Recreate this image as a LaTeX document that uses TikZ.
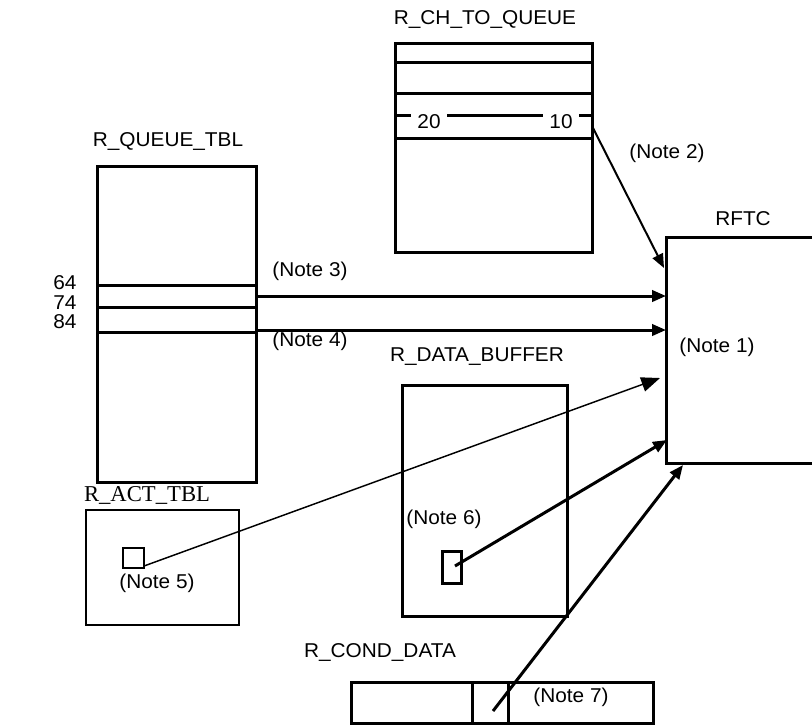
\documentclass[tikz,border=0pt]{standalone}
\usepackage{fontspec}
\setmainfont{Liberation Sans}[FakeStretch=1.04]
\newfontfamily\actfont{Liberation Serif}
\usetikzlibrary{arrows.meta}

\begin{document}
\begin{tikzpicture}[
    x=0.75pt, y=-0.75pt,
    >={Triangle[length=10.5pt,width=8.5pt]},
    every node/.style={font=\fontsize{15}{18}\selectfont, inner sep=0pt},
    wall/.style={draw=black, line width=2.25pt},
    thinwall/.style={draw=black, line width=1.1pt},
    link/.style={->, line width=2.25pt},
    thinlink/.style={->, line width=1.1pt},
    num/.style={fill=white, inner xsep=5pt, inner ysep=2pt}
]
\useasboundingbox (0,0) rectangle (812,726);

% tables
\draw[wall] (395,43) rectangle (592,252);
\foreach \y in {62,93,115,138} \draw[wall] (395,\y) -- (592,\y);
\draw[wall] (97,166) rectangle (256,482);
\foreach \y in {285,307,332} \draw[wall] (97,\y) -- (256,\y);
\draw[wall] (815,237) -- (666,237) -- (666,463) -- (815,463);
\draw[wall] (402,385) rectangle (567,616);
\draw[wall] (442,551) rectangle (461,583);
\draw[thinwall] (86,510) rectangle (239,625);
\draw[thinwall] (123,548) rectangle (144,568);
\draw[wall] (351,682) rectangle (653,723);
\draw[wall] (472,682) -- (472,723);
\draw[wall] (508,682) -- (508,723);

% titles
\node (chqtitle) at (485,19) {R\_CH\_TO\_QUEUE};
\node (qtbltitle) at (168,141) {R\_QUEUE\_TBL};
\node (rftctitle) at (743,219) {RFTC};
\node (dbuftitle) at (477,357) {R\_DATA\_BUFFER};
\node[font=\actfont\fontsize{17}{20}\selectfont] (acttitle) at (147,495) {R\_ACT\_TBL};
\node (condtitle) at (380,652) {R\_COND\_DATA};

% field values
\node[num] (ch20) at (429,122) {20};
\node[num] (ch10) at (561,122) {10};
\node[anchor=west] (q64) at (53,283) {64};
\node[anchor=west] (q74) at (53,303) {74};
\node[anchor=west] (q84) at (53,322) {84};

% notes
\node (note1) at (717,347) {(Note 1)};
\node (note2) at (667,153) {(Note 2)};
\node (note3) at (310,271) {(Note 3)};
\node (note4) at (310,341) {(Note 4)};
\node (note5) at (157,583) {(Note 5)};
\node (note6) at (444,519) {(Note 6)};
\node (note7) at (571,697) {(Note 7)};

% connector ends
\coordinate (chqout) at (593,128);
\coordinate (qout3) at (256,296);
\coordinate (qout4) at (256,330);
\coordinate (actout) at (144,566);
\coordinate (bufout) at (455,566);
\coordinate (condout) at (493,711);
\coordinate (rftc2) at (664,268);
\coordinate (rftc3) at (666,296);
\coordinate (rftc4) at (666,330);
\coordinate (rftc5) at (660,378);
\coordinate (rftc6) at (667,440);
\coordinate (rftc7) at (683,465);

\draw[->, line width=1.5pt] (chqout) -- (rftc2);
\draw[link] (qout3) -- (rftc3);
\draw[link] (qout4) -- (rftc4);
\draw[thinlink, >={Triangle[length=14pt,width=11pt]}] (actout) -- (rftc5);
\draw[link] (bufout) -- (rftc6);
\draw[link] (condout) -- (rftc7);
\end{tikzpicture}
\end{document}
